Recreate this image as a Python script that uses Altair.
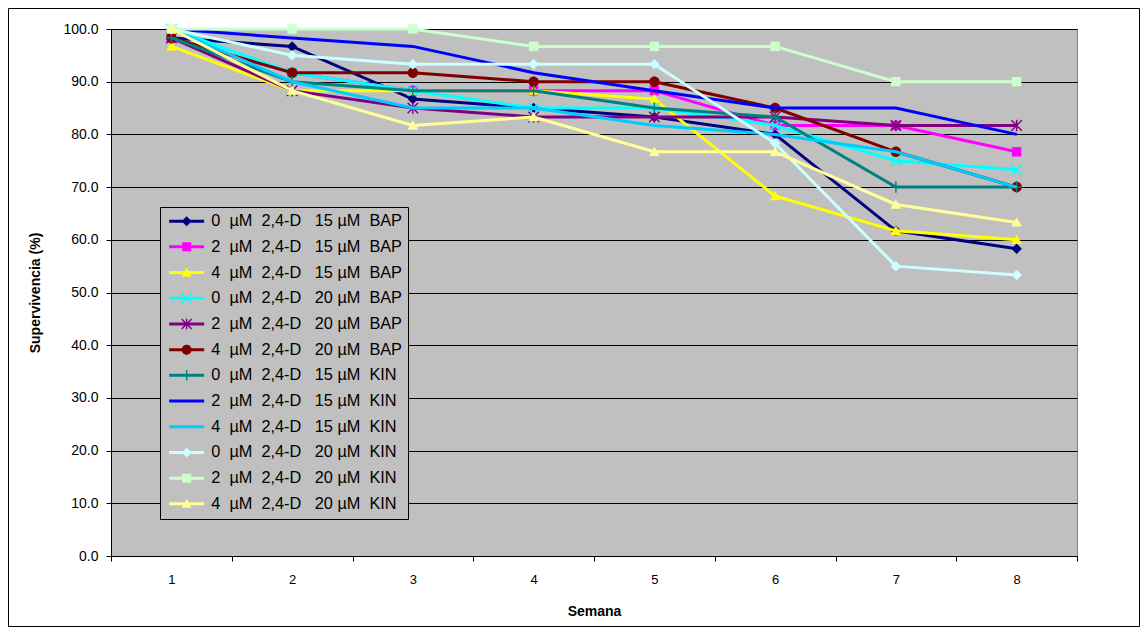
import altair as alt
import pandas as pd

semanas = [1, 2, 3, 4, 5, 6, 7, 8]

NB = "\u00a0"
def etiqueta(d, c, h):
    return f"{d}{NB*2}µM{NB*2}2,4-D{NB*3}{c}{NB}µM{NB*2}{h}"

series = [
    etiqueta(0, 15, "BAP"), etiqueta(2, 15, "BAP"), etiqueta(4, 15, "BAP"),
    etiqueta(0, 20, "BAP"), etiqueta(2, 20, "BAP"), etiqueta(4, 20, "BAP"),
    etiqueta(0, 15, "KIN"), etiqueta(2, 15, "KIN"), etiqueta(4, 15, "KIN"),
    etiqueta(0, 20, "KIN"), etiqueta(2, 20, "KIN"), etiqueta(4, 20, "KIN"),
]

d0_bap15 = [98.3, 96.7, 86.7, 85.0, 83.3, 80.0, 61.7, 58.3]
d2_bap15 = [98.3, 91.7, 88.3, 88.3, 88.3, 81.7, 81.7, 76.7]
d4_bap15 = [96.7, 88.3, 88.3, 88.3, 86.7, 68.3, 61.7, 60.0]
d0_bap20 = [100.0, 91.7, 88.3, 85.0, 85.0, 81.7, 75.0, 73.3]
d2_bap20 = [98.3, 88.3, 85.0, 83.3, 83.3, 83.3, 81.7, 81.7]
d4_bap20 = [98.3, 91.7, 91.7, 90.0, 90.0, 85.0, 76.7, 70.0]
d0_kin15 = [98.3, 90.0, 88.3, 88.3, 85.0, 83.3, 70.0, 70.0]
d2_kin15 = [100.0, 98.3, 96.7, 91.7, 88.3, 85.0, 85.0, 80.0]
d4_kin15 = [100.0, 90.0, 85.0, 85.0, 81.7, 80.0, 76.7, 70.0]
d0_kin20 = [100.0, 95.0, 93.3, 93.3, 93.3, 78.3, 55.0, 53.3]
d2_kin20 = [100.0, 100.0, 100.0, 96.7, 96.7, 96.7, 90.0, 90.0]
d4_kin20 = [100.0, 88.3, 81.7, 83.3, 76.7, 76.7, 66.7, 63.3]

valores = [d0_bap15, d2_bap15, d4_bap15, d0_bap20, d2_bap20, d4_bap20,
           d0_kin15, d2_kin15, d4_kin15, d0_kin20, d2_kin20, d4_kin20]

colores = ["#000080", "#FF00FF", "#FFFF00", "#00FFFF", "#800080", "#800000",
           "#008080", "#0000FF", "#00CCFF", "#CCFFFF", "#CCFFCC", "#FFFF99"]

marcador = ["diamond", "square", "triangle", "x", "star", "circle",
            "plus", None, None, "diamond", "square", "triangle"]

# marker outlines (unit coordinates, all same winding so overlaps fill)
def forma(kind, dx=0.0):
    def p(x, y):
        return f"{x + dx:.3f},{y:.3f}"
    if kind == "diamond":
        return f"M{p(0,-1)}L{p(1,0)}L{p(0,1)}L{p(-1,0)}Z"
    if kind == "square":
        return f"M{p(-0.9,-0.9)}L{p(0.9,-0.9)}L{p(0.9,0.9)}L{p(-0.9,0.9)}Z"
    if kind == "triangle":
        return f"M{p(0,-1)}L{p(1,0.8)}L{p(-1,0.8)}Z"
    if kind == "circle":
        return f"M{p(1,0)}A1,1,0,1,1,{p(-1,0)}A1,1,0,1,1,{p(1,0)}Z"
    xbars = (f"M{p(-1.1,-0.9)}L{p(-0.9,-1.1)}L{p(1.1,0.9)}L{p(0.9,1.1)}Z"
             f"M{p(-1.1,0.9)}L{p(0.9,-1.1)}L{p(1.1,-0.9)}L{p(-0.9,1.1)}Z")
    vbar = f"M{p(-0.14,-1.1)}L{p(0.14,-1.1)}L{p(0.14,1.1)}L{p(-0.14,1.1)}Z"
    hbar = f"M{p(-1,-0.14)}L{p(1,-0.14)}L{p(1,0.14)}L{p(-1,0.14)}Z"
    if kind == "x":
        return xbars
    if kind == "star":
        return xbars + vbar
    if kind == "plus":
        return vbar + hbar
    return ""

linea_leyenda = "M-1,-0.3L6,-0.3L6,0.3L-1,0.3Z"
formas_leyenda = [linea_leyenda + (forma(m, 2.5) if m else "") for m in marcador]

filas = []
for i, (nombre, vals) in enumerate(zip(series, valores)):
    for s, v in zip(semanas, vals):
        filas.append({"idx": i, "serie": nombre, "semana": s, "valor": v})
df = pd.DataFrame(filas)

FONT = "Liberation Sans"

xenc = alt.X(
    "semana:O", title="Semana", bandPosition=0.5,
    scale=alt.Scale(type="band", paddingInner=0, paddingOuter=0),
    axis=alt.Axis(labelAngle=0, tickBand="extent", grid=False, tickSize=5,
                  labelPadding=12, titlePadding=18, labelFontSize=13),
)
yenc = alt.Y(
    "valor:Q", title="Supervivencia (%)",
    scale=alt.Scale(domain=[0, 100], nice=False, zero=True),
    axis=alt.Axis(values=list(range(0, 101, 10)), format=".1f", tickSize=5,
                  labelPadding=8, titlePadding=20, grid=True, labelFontSize=14,
                  gridColor="#000000", gridWidth=1, gridOpacity=1),
)

base = alt.Chart(df)
capas = []
for i, (col, mk) in enumerate(zip(colores, marcador)):
    sub = base.transform_filter(alt.datum.idx == i)
    capas.append(sub.mark_line(color=col, strokeWidth=3).encode(x=xenc, y=yenc))
    if mk:
        capas.append(sub.mark_point(shape=forma(mk), filled=True, size=110,
                                    color=col, opacity=1, strokeWidth=0)
                     .encode(x=xenc, y=yenc))

leyenda = base.transform_filter("false").mark_point(filled=True, opacity=1).encode(
    x=xenc, y=yenc,
    color=alt.Color("serie:N", scale=alt.Scale(domain=series, range=colores),
                    legend=alt.Legend(title=None)),
    shape=alt.Shape("serie:N", scale=alt.Scale(domain=series, range=formas_leyenda),
                    legend=alt.Legend(title=None)),
)

marco = alt.Chart(alt.Data(values=[{}])).mark_rect(
    fill="transparent", stroke="black", strokeWidth=1
).encode(x=alt.value(-102.5), x2=alt.value(1028.5), y=alt.value(-20.5), y2=alt.value(597.5))

chart = alt.layer(*capas, leyenda, marco).properties(
    width=966, height=527,
    autosize=alt.AutoSizeParams(type="none"),
    padding={"left": 103, "top": 21, "right": 63, "bottom": 71},
    background="white",
).configure_view(
    fill="#C0C0C0", stroke="#808080", strokeWidth=1
).configure_axis(
    labelFont=FONT, titleFont=FONT, labelColor="black", titleColor="black",
    domainColor="black", tickColor="black", titleFontSize=14,
    titleFontWeight="bold",
).configure_legend(
    orient="none", legendX=49, legendY=178, fillColor="#C0C0C0",
    strokeColor="black", padding=6, labelFont=FONT, labelFontSize=16.3,
    labelColor="black", symbolSize=100, labelOffset=29, rowPadding=8.7,
    labelLimit=400, symbolStrokeWidth=0,
)

chart.save("out.html", embed_options={"renderer": "svg", "actions": False})
